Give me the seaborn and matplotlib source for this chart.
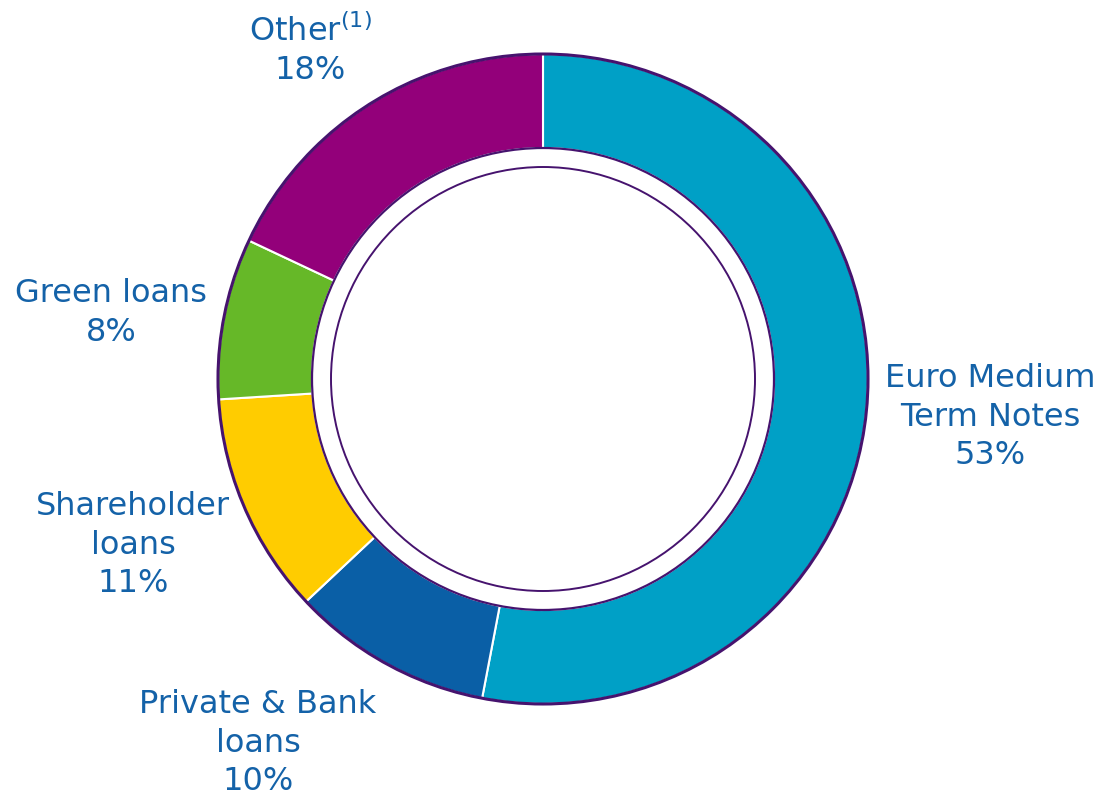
import matplotlib
matplotlib.use("Agg")
import matplotlib.pyplot as plt
import seaborn as sns

# --- data ---
categories = ["Euro Medium\nTerm Notes", "Private & Bank\nloans", "Shareholder\nloans",
              "Green loans", "Other"]
shares = [53, 10, 11, 8, 18]
colors = ["#00A0C6", "#0A5FA6", "#FFCC00", "#66B828", "#93007A"]

# label anchors (pixel coords, y from top)
label_pos = [(990, 417), (258, 743), (133, 545), (111, 313), (310, 50)]

sns.set_theme(style="white")
plt.rcParams["font.family"] = ["DejaVu Sans"]

W, H = 1103, 797
fig = plt.figure(figsize=(W / 100, H / 100), dpi=100)
ax = fig.add_axes([0, 0, 1, 1])

cx, cy = 543, H - 379
r_out, r_in, r_line = 325, 231, 212
purple = "#46136E"
txt_col = "#1462A8"

ax.pie(shares, colors=sns.color_palette(colors), startangle=90, counterclock=False,
       center=(cx, cy), radius=r_out, frame=True,
       wedgeprops=dict(width=r_out - r_in, edgecolor="white", linewidth=1.5))
ax.set_xlim(0, W)
ax.set_ylim(0, H)
ax.set_aspect("equal")
ax.axis("off")

for r, lw in [(r_out, 2.2), (r_in, 1.6), (r_line, 1.4)]:
    ax.add_patch(plt.Circle((cx, cy), r, fill=False, edgecolor=purple, linewidth=lw))

for name, val, (x, y) in zip(categories, shares, label_pos):
    if name == "Other":
        lab = "Other$^{(1)}$\n" + f"{val}%"
    else:
        lab = f"{name}\n{val}%"
    ax.text(x, H - y, lab, ha="center", va="center", fontsize=23, color=txt_col,
            linespacing=1.3)

fig.savefig("out.png", dpi=100)
